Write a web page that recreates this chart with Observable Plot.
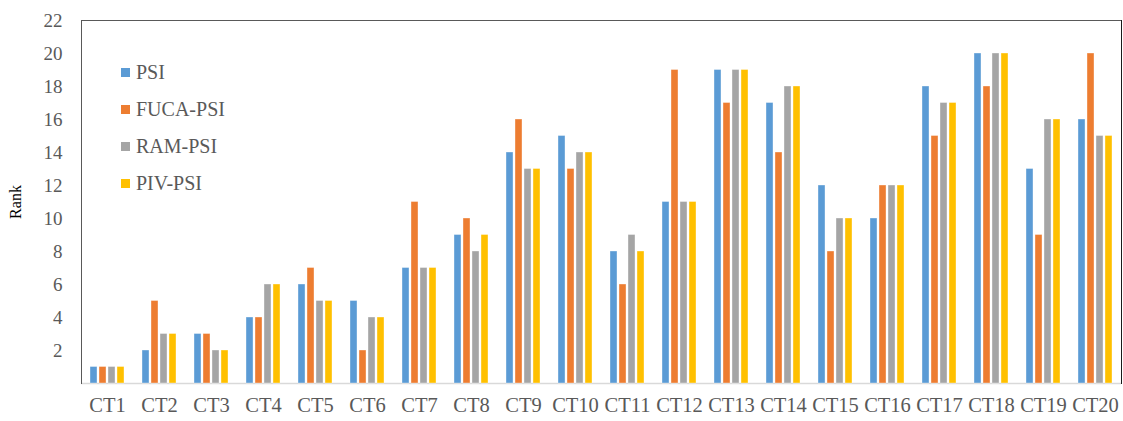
<!DOCTYPE html>
<html>
<head>
<meta charset="utf-8">
<script src="https://cdn.jsdelivr.net/npm/d3@7"></script>
<script src="https://cdn.jsdelivr.net/npm/@observablehq/plot@0.6"></script>
<style>
  html, body { margin: 0; padding: 0; background: #fff; }
  #wrap { position: relative; width: 1123px; height: 421px; }
  #legend { position: absolute; left: 121px; top: 54px; font-family: "Liberation Serif", "Times New Roman", serif; font-size: 20px; color: #595959; }
  #legend .row { display: flex; align-items: center; height: 37px; }
  #legend .sw { width: 9px; height: 9px; margin-right: 6px; }
</style>
</head>
<body>
<div id="wrap"><div id="legend"></div></div>
<script>
const categories = ["CT1","CT2","CT3","CT4","CT5","CT6","CT7","CT8","CT9","CT10","CT11","CT12","CT13","CT14","CT15","CT16","CT17","CT18","CT19","CT20"];
const series = ["PSI","FUCA-PSI","RAM-PSI","PIV-PSI"];
const colors = ["#5B9BD5","#ED7D31","#A5A5A5","#FFC000"];
const PSI      = [1,2,3,4,6,5,7,9,14,15,8,11,19,17,12,10,18,20,13,16];
const FUCA_PSI = [1,5,3,4,7,2,11,10,16,13,6,19,17,14,8,12,15,18,9,20];
const RAM_PSI  = [1,3,2,6,5,4,7,8,13,14,9,11,19,18,10,12,17,20,16,15];
const PIV_PSI  = [1,3,2,6,5,4,7,9,13,14,8,11,19,18,10,12,17,20,16,15];
const yTicks = [2,4,6,8,10,12,14,16,18,20,22];

const valuesBySeries = [PSI, FUCA_PSI, RAM_PSI, PIV_PSI];
const data = [];
categories.forEach((c, i) => {
  series.forEach((s, j) => data.push({ct: c, series: s, rank: valuesBySeries[j][i]}));
});

const font = '"Liberation Serif", "Times New Roman", serif';

const chart = Plot.plot({
  width: 1123,
  height: 421,
  marginLeft: 81,
  marginRight: 2,
  marginTop: 20,
  marginBottom: 38,
  style: {fontFamily: font, background: "#fff"},
  fx: {domain: categories, padding: 0},
  x: {domain: series, paddingInner: 0.2, paddingOuter: 0.8, axis: null},
  y: {domain: [0, 22]},
  color: {domain: series, range: colors},
  marks: [
    Plot.ruleY([0], {stroke: "#D9D9D9", strokeWidth: 1.5}),
    Plot.frame({anchor: "top", stroke: "#595959"}),
    Plot.frame({anchor: "left", facetAnchor: "left", stroke: "#595959"}),
    Plot.frame({anchor: "right", facetAnchor: "right", stroke: "#1a1a1a"}),
    Plot.barY(data, {fx: "ct", x: "series", y: "rank", fill: "series", stroke: "#fff", strokeWidth: 0.6, strokeOpacity: 0.6}),
    Plot.axisY({ticks: yTicks, tickSize: 0, tickPadding: 19, fontSize: 19, color: "#595959",
      label: "Rank", labelAnchor: "center", labelArrow: "none", labelOffset: 72}),
    Plot.axisFx({anchor: "bottom", tickSize: 0, tickPadding: 14, fontSize: 20.5, color: "#595959", label: null})
  ]
});

document.getElementById("wrap").prepend(chart);

const legend = document.getElementById("legend");
series.forEach((s, j) => {
  const row = document.createElement("div");
  row.className = "row";
  const sw = document.createElement("div");
  sw.className = "sw";
  sw.style.background = colors[j];
  const t = document.createElement("span");
  t.textContent = s;
  row.appendChild(sw); row.appendChild(t);
  legend.appendChild(row);
});

chart.querySelectorAll("text").forEach(t => {
  if (t.textContent.trim() === "Rank") {
    t.setAttribute("fill", "#000");
    t.style.fontSize = "16px";
  }
});
</script>
</body>
</html>
